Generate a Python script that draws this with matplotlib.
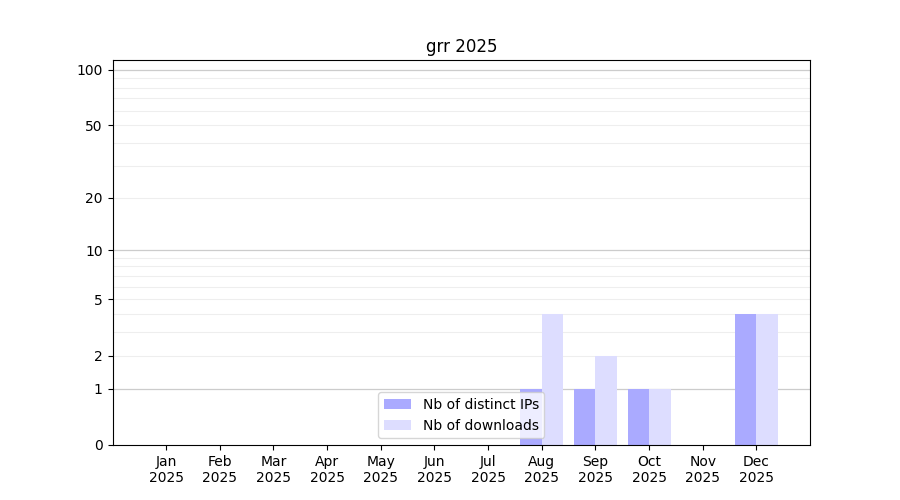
import numpy as np
import matplotlib
matplotlib.use('Agg')
import matplotlib.pyplot as plt

months = ['Jan', 'Feb', 'Mar', 'Apr', 'May', 'Jun', 'Jul', 'Aug', 'Sep', 'Oct', 'Nov', 'Dec']
year = 2025
distinct_ips = [0, 0, 0, 0, 0, 0, 0, 1, 1, 1, 0, 4]
downloads = [0, 0, 0, 0, 0, 0, 0, 4, 2, 1, 0, 4]


def fwd(y):
    return np.log10(1 + np.clip(y, 0, None))


def inv(y):
    return 10 ** y - 1


fig, ax = plt.subplots(figsize=(9, 5), dpi=100)
x = np.arange(1, len(months) + 1)

ax.bar(x - 0.2, distinct_ips, width=0.4, color='#aaaaff', label='Nb of distinct IPs')
ax.bar(x + 0.2, downloads, width=0.4, color='#ddddff', label='Nb of downloads')

ax.set_yscale('function', functions=(fwd, inv))
ax.set_ylim(0, 113)
ax.set_xlim(0, 13)

ax.set_yticks([0, 1, 2, 5, 10, 20, 50, 100])
ax.set_yticklabels(['0', '1', '2', '5', '10', '20', '50', '100'])
minor = [v for d in (1, 10) for v in range(2 * d, 10 * d, d)]
ax.set_yticks(minor, minor=True)
ax.tick_params(axis='y', which='minor', length=0)

for v in [1, 10, 100]:
    ax.axhline(v, color='#cccccc', lw=0.9, zorder=0)
for v in minor:
    ax.axhline(v, color='#eeeeee', lw=0.8, zorder=0)

ax.set_xticks(x)
ax.set_xticklabels([f'{m}\n{year}' for m in months])

ax.set_title(f'grr {year}')
ax.legend(loc='lower center')

fig.savefig('out.png', dpi=100)
